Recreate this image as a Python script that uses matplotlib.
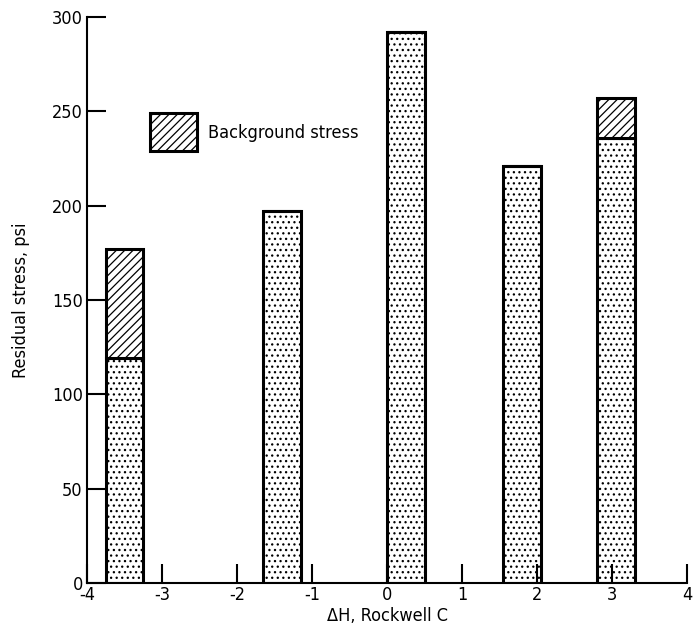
import matplotlib
matplotlib.use('Agg')
import matplotlib.pyplot as plt
from matplotlib.patches import Patch

plt.rcParams['font.family'] = ['DejaVu Sans']
plt.rcParams['font.stretch'] = 'condensed'
plt.rcParams['axes.unicode_minus'] = False
plt.rcParams['hatch.linewidth'] = 0.9

# hardness change of each specimen and its residual stress
deltaH = [-3.5, -1.4, 0.25, 1.8, 3.05]
residual = [119, 197, 292, 221, 236]
background = [58, 0, 0, 0, 21]
barWidth = 0.5

fig = plt.figure(figsize=(6.93, 6.39), dpi=100)
ax = fig.add_axes([0.1255, 0.0876, 0.866, 0.886])

ax.bar(deltaH, residual, width=barWidth, color='white', edgecolor='black',
       linewidth=2.2, hatch='...')
ax.bar(deltaH, background, width=barWidth, bottom=residual, color='white',
       edgecolor='black', linewidth=2.2, hatch='////')

ax.set_xlim(-4, 4)
ax.set_ylim(0, 300)
ax.set_xticks(range(-4, 5))
ax.set_yticks(range(0, 301, 50))
ax.spines['top'].set_visible(False)
ax.spines['right'].set_visible(False)
ax.spines['left'].set_linewidth(1.5)
ax.spines['bottom'].set_linewidth(1.5)
ax.tick_params(direction='in', length=14, width=1.5, labelsize=13)
ax.tick_params(axis='y', pad=3)
ax.tick_params(axis='x', pad=2)

ax.set_xlabel('\u0394H, Rockwell C', fontsize=13, labelpad=2)
ax.set_ylabel('Residual stress, psi', fontsize=13, labelpad=16)

handle = Patch(facecolor='white', edgecolor='black', linewidth=2.2, hatch='////')
ax.legend([handle], ['Background stress'], loc='upper left', bbox_to_anchor=(0.0934, 0.843),
          frameon=False, fontsize=13, handlelength=2.6, handleheight=2.9, handletextpad=0.6,
          borderaxespad=0)

plt.savefig('out.png', dpi=100)
